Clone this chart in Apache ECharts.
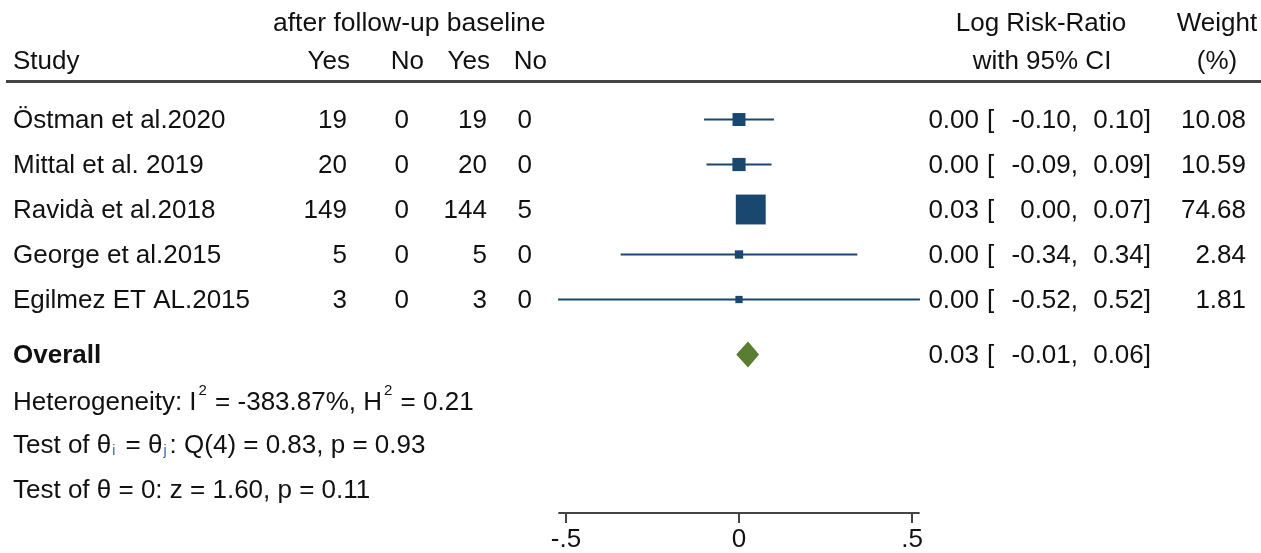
<!DOCTYPE html>
<html>
<head>
<meta charset="utf-8">
<script src="https://cdn.jsdelivr.net/npm/echarts@6/dist/echarts.min.js"></script>
<style>
html,body{margin:0;padding:0;background:#fff;}
#c{width:1261px;height:553px;}
</style>
</head>
<body>
<div id="c"></div>
<script>
// ---- data ----
const studies = ['Östman et al.2020', 'Mittal et al. 2019', 'Ravidà et al.2018', 'George et al.2015', 'Egilmez ET AL.2015'];
const afterYes = [19, 20, 149, 5, 3];
const afterNo = [0, 0, 0, 0, 0];
const baseYes = [19, 20, 144, 5, 3];
const baseNo = [0, 0, 5, 0, 0];
const logRR = [0.000, 0.000, 0.034, 0.000, 0.000];
const ciLow = [-0.101, -0.094, 0.003, -0.342, -0.523];
const ciHigh = [0.101, 0.094, 0.066, 0.342, 0.523];
const weights = [10.08, 10.59, 74.68, 2.84, 1.81];
const overallEst = 0.026;
const overallLow = -0.008;
const overallHigh = 0.058;
const xTicks = [-0.5, 0, 0.5];
const xTickLabels = ['-.5', '0', '.5'];
const heteroText = ['Heterogeneity: I', '2', ' = -383.87%, H', '2', ' = 0.21'];
const testThetaText = ['Test of θ', 'i', ' = θ', 'j', ': Q(4) = 0.83, p = 0.93'];
const testZeroText = 'Test of θ = 0: z = 1.60, p = 0.11';

// ---- layout / style ----
const NAVY = '#1a476f';
const GREEN = '#5a7d32';
const FONT = '"Liberation Sans", Arial, sans-serif';
const FS = 26;
const TXT = '#111';
const studyRows = studies.map((_, i) => i);
const overallRow = 5.22;
const heteroRow = 6.28;
const testIRow = 7.23;
const testZRow = 8.23;

const chart = echarts.init(document.getElementById('c'), null, {renderer: 'canvas'});

const studyData = studies.map((_, i) => [logRR[i], studyRows[i], ciLow[i], ciHigh[i], weights[i]]);

chart.setOption({
  animation: false,
  backgroundColor: '#fff',
  grid: {left: 559.08, width: 359.84, top: 7, bottom: 40, containLabel: false},
  xAxis: {
    type: 'value', min: -0.52, max: 0.52, position: 'bottom',
    axisLine: {show: true, onZero: false, lineStyle: {color: '#444', width: 2}},
    axisTick: {show: true, customValues: xTicks, length: 10, lineStyle: {color: '#444', width: 2}},
    axisLabel: {
      customValues: xTicks, margin: 14,
      formatter: v => { const k = xTicks.findIndex(t => Math.abs(t - v) < 1e-9); return k >= 0 ? xTickLabels[k] : ''; },
      fontSize: FS, fontFamily: FONT, color: TXT
    },
    splitLine: {show: false}
  },
  yAxis: {type: 'value', inverse: true, min: -2.5, max: 8.744, show: false, splitLine: {show: false}},
  series: [
    {
      type: 'custom', clip: false,
      encode: {x: [0, 2, 3], y: 1},
      data: studyData,
      renderItem: function (params, api) {
        const est = api.value(0), row = api.value(1), lo = api.value(2), hi = api.value(3), w = api.value(4);
        const pLo = api.coord([lo, row]), pHi = api.coord([hi, row]), pE = api.coord([est, row]);
        const s = 3.1 + 3.1 * Math.sqrt(w);
        return {
          type: 'group',
          children: [
            {type: 'line', shape: {x1: pLo[0], y1: pLo[1], x2: pHi[0], y2: pHi[1]}, style: {stroke: NAVY, lineWidth: 2}},
            {type: 'rect', shape: {x: pE[0] - s / 2, y: pE[1] - s / 2, width: s, height: s}, style: {fill: NAVY}}
          ]
        };
      }
    },
    {
      type: 'custom', clip: false,
      encode: {x: [0, 2, 3], y: 1},
      data: [[overallEst, overallRow, overallLow, overallHigh]],
      renderItem: function (params, api) {
        const est = api.value(0), row = api.value(1), lo = api.value(2), hi = api.value(3);
        const pLo = api.coord([lo, row]), pHi = api.coord([hi, row]), pE = api.coord([est, row]);
        const h = 13;
        return {
          type: 'polygon',
          shape: {points: [[pLo[0], pLo[1]], [pE[0], pE[1] - h], [pHi[0], pHi[1]], [pE[0], pE[1] + h]]},
          style: {fill: GREEN}
        };
      }
    }
  ]
});

const yPix = r => chart.convertToPixel({yAxisIndex: 0}, r);
function txt(text, x, y, align, extra) {
  return {
    type: 'text', x: x, y: y, silent: true,
    style: Object.assign({
      text: String(text), fontSize: FS, fontFamily: FONT, fill: TXT,
      align: align, textAlign: align, verticalAlign: 'middle', textVerticalAlign: 'middle'
    }, extra || {})
  };
}
const f2 = v => (Math.abs(v) < 0.005 ? 0 : v).toFixed(2);

const g = [];
// header
g.push(txt('after follow-up baseline', 273, 24, 'left', {fontSize: 26.5}));
g.push(txt('Study', 13, 62, 'left'));
g.push(txt('Yes', 350, 62, 'right'));
g.push(txt('No', 424, 62, 'right'));
g.push(txt('Yes', 490, 62, 'right'));
g.push(txt('No', 547, 62, 'right'));
g.push(txt('Log Risk-Ratio', 1041, 24, 'center'));
g.push(txt('with 95% CI', 1042, 62, 'center'));
g.push(txt('Weight', 1217, 24, 'center'));
g.push(txt('(%)', 1217, 62, 'center'));
g.push({type: 'line', silent: true, shape: {x1: 6, y1: 81.5, x2: 1261, y2: 81.5}, style: {stroke: '#444', lineWidth: 3}});

// study rows
studies.forEach((name, i) => {
  const y = yPix(studyRows[i]) + 1;
  g.push(txt(name, 13, y, 'left'));
  g.push(txt(afterYes[i], 347, y, 'right'));
  g.push(txt(afterNo[i], 409, y, 'right'));
  g.push(txt(baseYes[i], 487, y, 'right'));
  g.push(txt(baseNo[i], 532, y, 'right'));
  g.push(txt(f2(logRR[i]), 979, y, 'right'));
  g.push(txt('[', 987, y, 'left'));
  g.push(txt(f2(ciLow[i]) + ',', 1078, y, 'right'));
  g.push(txt(f2(ciHigh[i]) + ']', 1151, y, 'right'));
  g.push(txt(weights[i].toFixed(2), 1246, y, 'right'));
});

// overall
{
  const y = yPix(overallRow) + 1;
  g.push(txt('Overall', 13, y, 'left', {fontWeight: 'bold'}));
  g.push(txt(f2(overallEst), 979, y, 'right'));
  g.push(txt('[', 987, y, 'left'));
  g.push(txt(f2(overallLow) + ',', 1078, y, 'right'));
  g.push(txt(f2(overallHigh) + ']', 1151, y, 'right'));
}

// footer stats: main text with small raised / lowered fragments
const mctx = document.createElement('canvas').getContext('2d');
function measure(s, size) { mctx.font = size + 'px ' + FONT; return mctx.measureText(s).width; }
function mixedLine(parts, y, smallSize, dy, smallColor, gapL, gapR) {
  let x = 13;
  parts.forEach((p, k) => {
    if (k % 2 === 0) {
      g.push(txt(p, x, y, 'left'));
      x += measure(p, FS);
    } else {
      x += gapL;
      g.push(txt(p, x, y + dy, 'left', {fontSize: smallSize, fill: smallColor}));
      x += measure(p, smallSize) + gapR;
    }
  });
}
mixedLine(heteroText, yPix(heteroRow) + 1, 15, -12, TXT, 2, 1);
mixedLine(testThetaText, yPix(testIRow) + 1, 14, 5, '#2f5fb8', 1, 3);
g.push(txt(testZeroText, 13, yPix(testZRow) + 1, 'left'));

chart.setOption({graphic: {elements: g}});
</script>
</body>
</html>
